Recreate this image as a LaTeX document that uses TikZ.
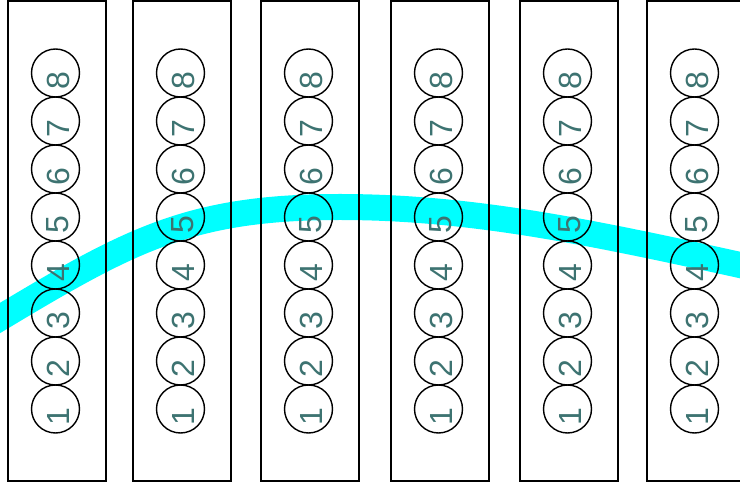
\documentclass[tikz,border=0pt]{standalone}
\usepackage{fontspec}
\setmainfont{Liberation Sans}
\usepackage{tikz}

\definecolor{digitteal}{RGB}{61,115,113}
\definecolor{bandcyan}{RGB}{0,255,255}

\tikzset{
  rack/.style={draw, line width=1.6pt, minimum width=98pt, minimum height=480pt, inner sep=0pt},
  hole/.style={draw, circle, line width=1.4pt, minimum size=48pt, inner sep=0pt},
  digit/.style={text=digitteal, rotate=90, inner sep=0pt, font=\fontsize{32}{36}\selectfont},
}

\begin{document}
\begin{tikzpicture}[x=1pt, y=-1pt]
    \clip (0,0) rectangle (740,486);

    % the band across the racks
    \coordinate (bandstart) at (-30,336);
    \coordinate (bandleft) at (0,318);
    \coordinate (bandtop) at (340,207);
    \coordinate (bandright) at (740,265);
    \coordinate (bandend) at (770,272);
    \draw [bandcyan, line width=26pt]
      (bandstart) -- (bandleft)
      .. controls (130,240) and (190,207) .. (bandtop)
      .. controls (470,207) and (590,232) .. (bandright)
      -- (bandend);

    % racks with their numbered holes
    \foreach \i/\x in {1/8, 2/133, 3/261, 4/391, 5/520, 6/647} {
      \node [rack] (rack\i) at (\x+49,241) {};
      \foreach \k in {1,...,8} {
        \node [hole] (hole\i-\k) at (\x+47.5,409-48*\k+48) {};
        \node [digit] (num\i-\k) at ([xshift=2.5pt, yshift=-8pt]hole\i-\k.center) {\k};
      }
    }
  \end{tikzpicture}
\end{document}
